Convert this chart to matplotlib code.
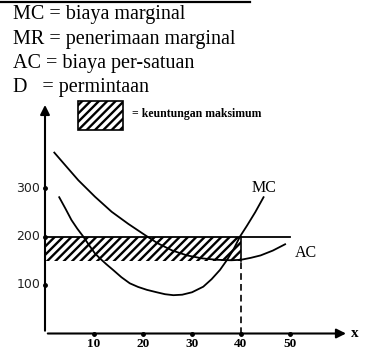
import numpy as np
import matplotlib.pyplot as plt
from matplotlib.patches import Rectangle

plt.rcParams['hatch.linewidth'] = 1.7

# keterangan di atas grafik
legend_lines = ["MC = biaya marginal",
                "MR = penerimaan marginal",
                "AC = biaya per-satuan",
                "D   = permintaan"]

# kurva MC
mc_x = [2.9, 4.2, 5.4, 6.6, 7.8, 9.0, 10.2, 11.2, 12.5, 13.9, 15.6, 17.3, 19.0,
        20.8, 22.8, 24.5, 26.2, 28.0, 30.0, 32.3, 34.0, 35.7, 37.1, 38.4, 39.8,
        41.2, 42.9, 44.6]
mc_y = [281, 257, 234, 216, 200, 182, 165, 155, 143, 131, 116, 103.5, 96,
        90, 85, 81, 79, 80, 85, 96.5, 112, 131, 151, 172, 200,
        222, 250, 281]

# kurva AC
ac_x = [1.9, 4.3, 6.8, 10.2, 13.6, 17.0, 20.4, 23.0, 26.0, 29.0, 32.0, 35.0,
        38.0, 40.0, 42.0, 44.0, 46.5, 49.0]
ac_y = [373, 345, 316, 282, 251, 226, 203, 186, 171, 161, 155, 152,
        151, 152, 156, 161, 171, 184]

price = 200
ac_at_q = 150
q_opt = 40
x_ticks = [10, 20, 30, 40, 50]
y_ticks = [100, 200, 300]

fig = plt.figure(figsize=(3.77, 3.51), dpi=100)
ax = fig.add_axes([0, 0, 1, 1])
# 1 satuan x = 4.9 px, 1 satuan y = 0.485 px, titik nol di (45, 333.5)
ax.set_xlim(-45 / 4.9, (377 - 45) / 4.9)
ax.set_ylim(-(351 - 333.5) / 0.485, 333.5 / 0.485)
ax.axis('off')

serif = 'Liberation Serif'

# garis di atas
fig.add_artist(plt.Line2D([0, 250 / 377], [1 - 1.5 / 351] * 2, color='black', lw=1.6))
for i, s in enumerate(legend_lines):
    fig.text(13 / 377, 1 - (15 + 24.2 * i) / 351, s, family=serif, fontsize=14.5,
             va='center', ha='left')

# daerah keuntungan maksimum
ax.add_patch(Rectangle((0, ac_at_q), q_opt, price - ac_at_q, facecolor='white',
                       edgecolor='black', hatch='////', lw=0))
ax.plot([0, 50], [price, price], color='black', lw=1.3)
ax.plot([q_opt, q_opt], [ac_at_q, price], color='black', lw=1.2)
ax.plot([q_opt, q_opt], [0, ac_at_q], color='black', lw=1.2, ls=(0, (4, 2.5)))

ax.plot(mc_x, mc_y, color='black', lw=1.3, solid_joinstyle='round')
ax.plot(ac_x, ac_y, color='black', lw=1.3, solid_joinstyle='round')
ax.text(44.6, 300, "MC", family=serif, fontsize=11.5, ha='center', va='center')
ax.text(51.0, 166, "AC", family=serif, fontsize=11.5, ha='left', va='center')

# sumbu
ax.annotate('', xy=(62, 0), xytext=(0, 0),
            arrowprops=dict(arrowstyle='-|>', lw=1.5, color='black', mutation_scale=14))
ax.annotate('', xy=(0, 477), xytext=(0, 0),
            arrowprops=dict(arrowstyle='-|>', lw=1.5, color='black', mutation_scale=14))
ax.text(62.5, 0, "x", family=serif, fontweight='bold', fontsize=11, ha='left', va='center')

ax.plot(x_ticks, [0] * len(x_ticks), 'o', color='black', ms=2.5)
ax.plot([0] * len(y_ticks), y_ticks, 'o', color='black', ms=2.5)
for t in x_ticks:
    ax.text(t, -22, str(t), family=serif, fontweight='bold', fontsize=9.5,
            ha='center', va='center')
for t in y_ticks:
    ax.text(-1.0, t, str(t), family='DejaVu Sans', fontsize=9, color='#222222',
            ha='right', va='center')

# kotak legenda
ax.add_patch(Rectangle((6.7, 420), 9.2, 60, facecolor='white', edgecolor='black',
                       hatch='////', lw=1.2))
ax.text(17.8, 453, "= keuntungan maksimum", family=serif, fontweight='bold',
        fontsize=8.5, ha='left', va='center')

fig.savefig('out.png', dpi=100)
